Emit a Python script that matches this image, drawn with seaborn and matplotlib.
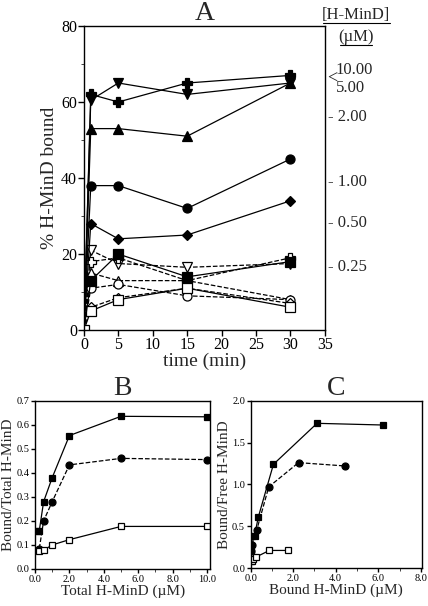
import matplotlib
matplotlib.use("Agg")
import matplotlib.pyplot as plt
import seaborn as sns
from matplotlib.ticker import MultipleLocator, FormatStrFormatter

sns.set_style("ticks")
plt.rcParams["font.family"] = ["Liberation Serif", "DejaVu Serif"]
plt.rcParams["axes.linewidth"] = 1.0
plt.rcParams["xtick.major.width"] = 1.0
plt.rcParams["ytick.major.width"] = 1.0

# ---- panel A: % bound vs time, one series per [H-MinD]
time_min = [0, 1, 5, 15, 30]

filled_markers = ["P", "v", "^", "o", "D", "s"]
filled_values = [
    [0, 62, 60, 65, 67],    # 10.00 uM
    [0, 60.5, 65, 62, 65],  # 5.00 uM
    [0, 53, 53, 51, 65],    # 2.00 uM
    [0, 38, 38, 32, 45],    # 1.00 uM
    [0, 28, 24, 25, 34],    # 0.50 uM
    [0, 13, 20, 14, 18],    # 0.25 uM
]

open_markers = ["v", "P", "^", "o", "D", "s"]
open_values = [
    [0, 21, 17.5, 16.5, 17.5],
    [0, 18, 19, 13, 19],
    [0, 15, 13, 13, 8],
    [0, 11, 12, 9, 8],
    [0, 6, 8.5, 11, 7],
    [0, 5, 8, 11, 6],
]
open_styles = ["--", "--", "--", "--", "--", "-"]

conc_labels = ["10.00", "5.00", "- 2.00", "- 1.00", "- 0.50", "- 0.25"]
conc_label_y = [68.3, 63.7, 56.1, 39.0, 28.1, 16.5]

# ---- panel B: bound/total vs total H-MinD
total_sq = [0.1, 0.25, 0.5, 1, 2, 5, 10]
ratio_sq = [0.16, 0.16, 0.28, 0.38, 0.555, 0.635, 0.633]
total_ci = [0.25, 0.5, 1, 2, 5, 10]
ratio_ci = [0.085, 0.2, 0.28, 0.433, 0.46, 0.455]
total_os = [0.25, 0.5, 1, 2, 5, 10]
ratio_os = [0.075, 0.078, 0.1, 0.122, 0.177, 0.177]

# ---- panel C: bound/free vs bound H-MinD
bound_sq = [0.02, 0.08, 0.18, 0.36, 1.07, 3.12, 6.2]
bf_sq = [0.2, 0.385, 0.385, 0.61, 1.24, 1.73, 1.71]
bound_ci = [0.02, 0.05, 0.28, 0.85, 2.25, 4.45]
bf_ci = [0.2, 0.27, 0.45, 0.97, 1.26, 1.22]
bound_os = [0.02, 0.04, 0.1, 0.24, 0.88, 1.77]
bf_os = [0.08, 0.085, 0.11, 0.13, 0.21, 0.21]

fig = plt.figure(figsize=(4.28, 6.06), dpi=100)
axA = fig.add_axes([0.196, 0.4554, 0.563, 0.5017])
axB = fig.add_axes([0.0818, 0.0611, 0.41, 0.2777])
axC = fig.add_axes([0.5857, 0.0627, 0.400, 0.276])


def series(ax, x, y, marker, face, ls, ms, every=None):
    sns.lineplot(x=x, y=y, ax=ax, marker=marker, color="black",
                 linestyle=ls, linewidth=0.9, markersize=ms,
                 markerfacecolor=face, markeredgecolor="black",
                 markeredgewidth=0.9, estimator=None, sort=False,
                 markevery=every)


for vals, m, ls in zip(open_values, open_markers, open_styles):
    every = None if m == "s" else [1, 2, 3, 4]
    ms = 6.5 if m != "D" else 5
    series(axA, time_min, vals, m, "white", ls, ms, every)

for vals, m in zip(filled_values, filled_markers):
    ms = 6.5 if m != "D" else 5
    series(axA, time_min, vals, m, "black", "-", ms, [1, 2, 3, 4])

axA.set_xlim(0, 35)
axA.set_ylim(0, 80)
axA.xaxis.set_major_locator(MultipleLocator(5))
axA.yaxis.set_major_locator(MultipleLocator(20))
axA.yaxis.set_minor_locator(MultipleLocator(10))
axA.tick_params(axis="both", labelsize=11.5, length=4, pad=1)
axA.tick_params(axis="y", which="minor", length=2.5)
axA.set_xlabel("time (min)", fontsize=14, labelpad=0)
axA.set_ylabel("% H-MinD bound", fontsize=14, labelpad=2)
axA.set_title("A", fontsize=20, pad=2)

for lab, yv in zip(conc_labels, conc_label_y):
    xpos = 36.6 if lab[0] != "-" else 35.5
    axA.text(xpos, yv, lab, fontsize=12, va="center", ha="left", clip_on=False)
axA.text(35.3, 66.0, "<", fontsize=13, va="center", ha="left", clip_on=False)

axA.text(39.5, 83.0, "[H-MinD]", fontsize=12, ha="center", va="center",
         clip_on=False)
axA.text(39.5, 77.2, "(\u00b5M)", fontsize=12, ha="center", va="center",
         clip_on=False)
axA.plot([34.7, 44.4], [80.8, 80.8], color="black", lw=0.8, clip_on=False)
axA.plot([37.2, 41.8], [75.0, 75.0], color="black", lw=0.8, clip_on=False)

# panel B
series(axB, total_sq, ratio_sq, "s", "black", "-", 5)
series(axB, total_ci, ratio_ci, "o", "black", "--", 5)
series(axB, total_os, ratio_os, "s", "white", "-", 5)
axB.set_xlim(0, 10.2)
axB.set_ylim(0, 0.7)
axB.xaxis.set_major_locator(MultipleLocator(2))
axB.xaxis.set_minor_locator(MultipleLocator(1))
axB.yaxis.set_major_locator(MultipleLocator(0.1))
axB.xaxis.set_major_formatter(FormatStrFormatter("%.1f"))
axB.yaxis.set_major_formatter(FormatStrFormatter("%.1f"))
axB.tick_params(axis="both", labelsize=7.5, length=3, pad=1)
axB.tick_params(which="minor", length=2)
axB.set_xlabel("Total H-MinD (\u00b5M)", fontsize=11, labelpad=1)
axB.set_ylabel("Bound/Total H-MinD", fontsize=11, labelpad=1)
axB.set_title("B", fontsize=20, pad=2)

# panel C
series(axC, bound_sq, bf_sq, "s", "black", "-", 5)
series(axC, bound_ci, bf_ci, "o", "black", "--", 5)
series(axC, bound_os, bf_os, "s", "white", "-", 5)
axC.set_xlim(0, 8.05)
axC.set_ylim(0, 2.0)
axC.xaxis.set_major_locator(MultipleLocator(2))
axC.xaxis.set_minor_locator(MultipleLocator(1))
axC.yaxis.set_major_locator(MultipleLocator(0.5))
axC.xaxis.set_major_formatter(FormatStrFormatter("%.1f"))
axC.yaxis.set_major_formatter(FormatStrFormatter("%.1f"))
axC.tick_params(axis="both", labelsize=7.5, length=3, pad=1)
axC.tick_params(which="minor", length=2)
axC.set_xlabel("Bound H-MinD (\u00b5M)", fontsize=11, labelpad=1)
axC.set_ylabel("Bound/Free H-MinD", fontsize=11, labelpad=1)
axC.set_title("C", fontsize=20, pad=2)

for ax in (axA, axB, axC):
    for s in ax.spines.values():
        s.set_visible(True)
        s.set_color("black")
    ax.tick_params(colors="black", direction="out")

fig.savefig("out.png", dpi=100)
plt.close(fig)
